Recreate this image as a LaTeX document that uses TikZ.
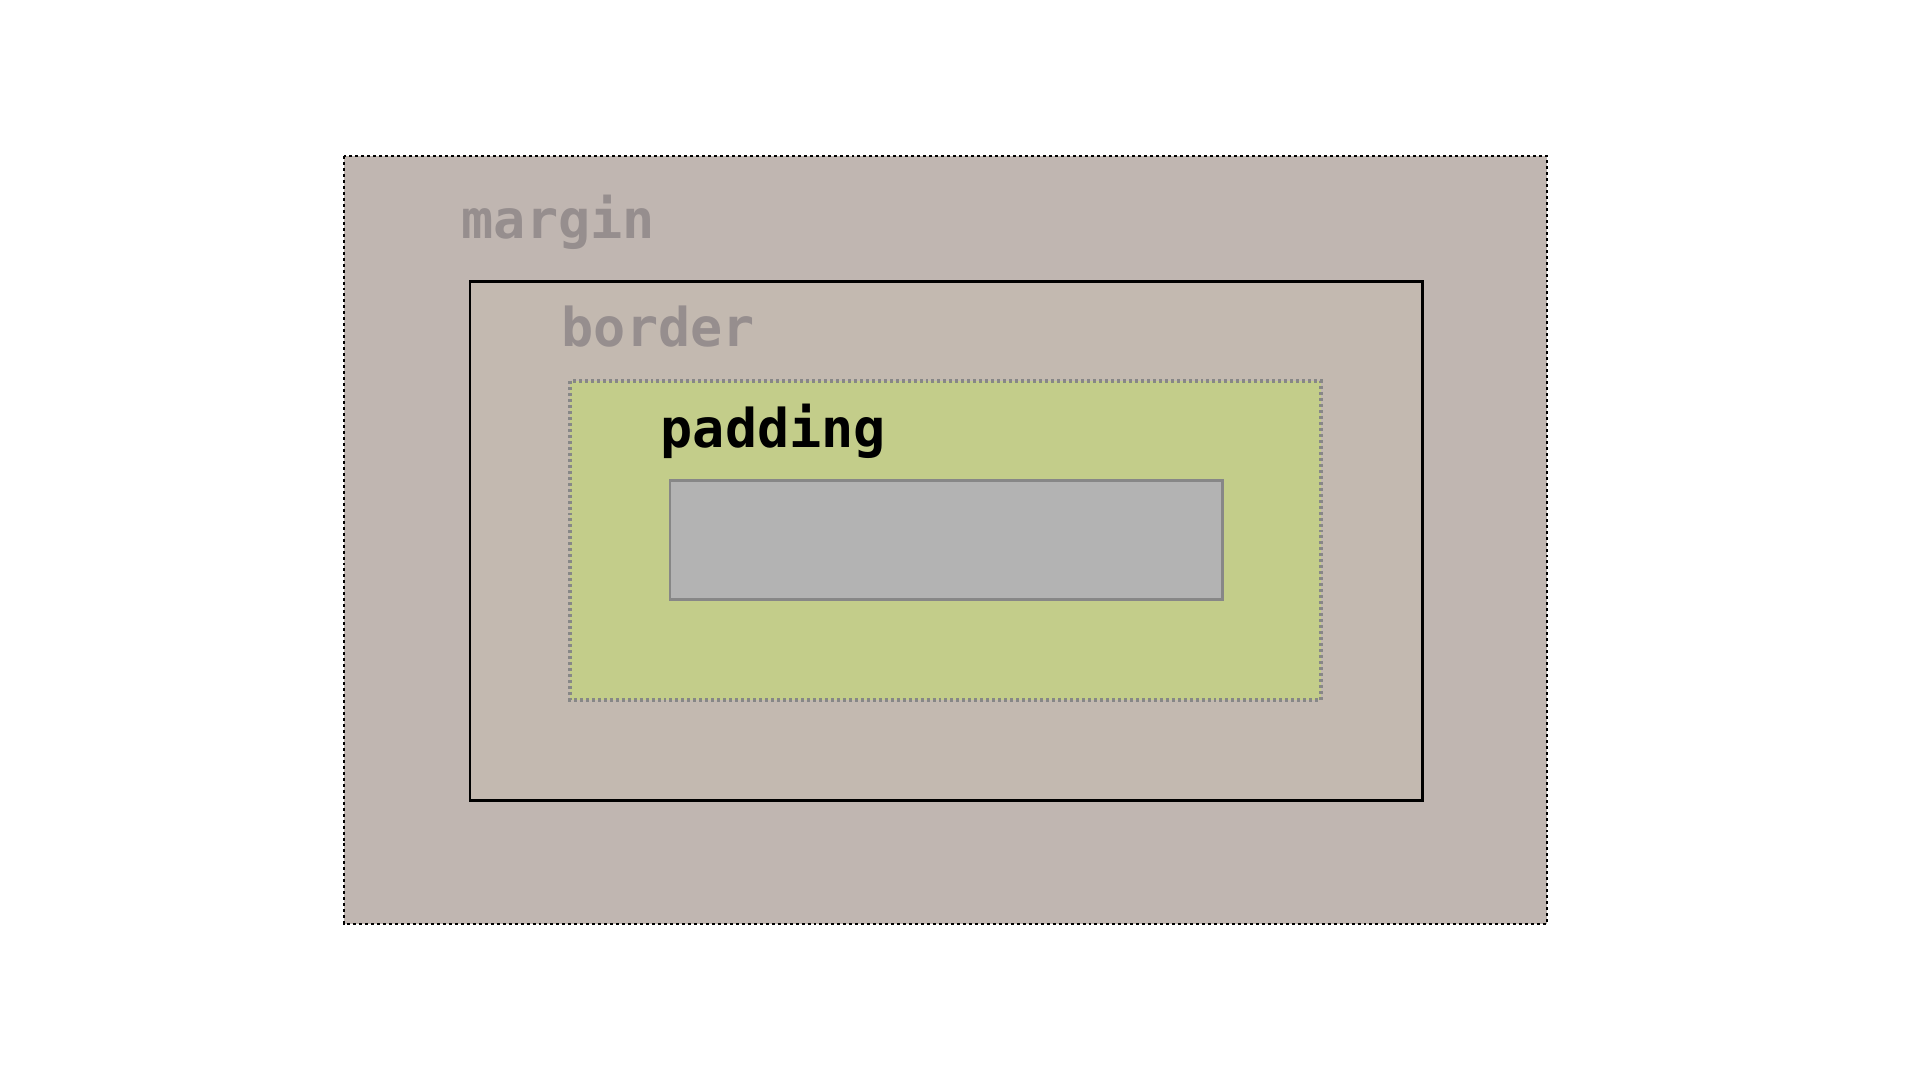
\documentclass[tikz,border=0pt]{standalone}
\usepackage{fontspec}
\setmonofont{DejaVu Sans Mono}
\usepackage{tikz}

\definecolor{marginfill}{HTML}{C0B6B1}
\definecolor{borderfill}{HTML}{C3B9B0}
\definecolor{paddingfill}{HTML}{C3CD8A}
\definecolor{contentfill}{HTML}{B3B3B3}
\definecolor{labelgray}{HTML}{968E8E}

\begin{document}
\begin{tikzpicture}[
  x=0.01cm, y=-0.01cm,
  font=\ttfamily\bfseries\fontsize{15.2}{18}\selectfont,
  marginbox/.style={draw=black, fill=marginfill, line width=0.75pt,
                    dash pattern=on 0.85pt off 0.85pt},
  borderbox/.style={draw=black, fill=borderfill, line width=0.85pt},
  paddingbox/.style={draw=black!47, fill=paddingfill, line width=0.9pt,
                     dash pattern=on 0.85pt off 0.85pt},
  contentbox/.style={draw=black!47, fill=contentfill, line width=0.85pt},
  lbl/.style={anchor=base west, inner sep=0pt, text=labelgray}
]
\useasboundingbox (0,0) rectangle (1920,1080);

% nested boxes, outside in
\draw[marginbox]  (344,156) rectangle (1547,924);
\draw[borderbox]  (470,282) rectangle (1422,801);
\draw[paddingbox] (570,381) rectangle (1321,700);
\draw[contentbox] (670,481) rectangle (1222,600);

% labels
\node[lbl] (marginlbl)  at (461,239) {margin};
\node[lbl] (borderlbl)  at (561,347) {border};
\node[lbl, text=black] (paddinglbl) at (660,448) {padding};
\end{tikzpicture}
\end{document}
